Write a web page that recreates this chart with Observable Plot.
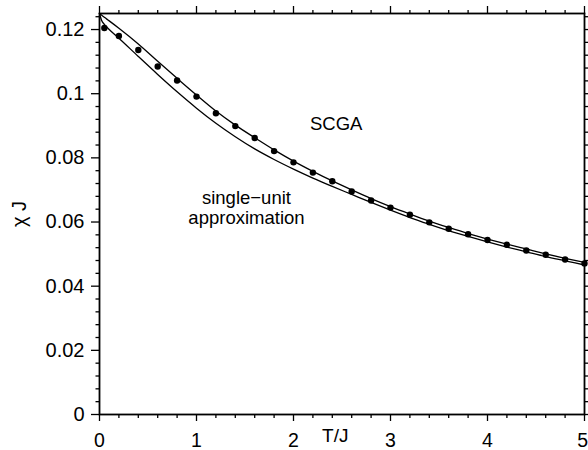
<!DOCTYPE html>
<html>
<head>
<meta charset="utf-8">
<script src="https://cdn.jsdelivr.net/npm/d3@7"></script>
<script src="https://cdn.jsdelivr.net/npm/@observablehq/plot@0.6"></script>
<style>
  html, body { margin: 0; padding: 0; background: #fff; }
</style>
</head>
<body>
<div id="chart"></div>
<script>
// Temperature grid for the two theory curves (T/J)
const lineT = [0, 0.02, 0.05, 0.1, 0.2, 0.4, 0.6, 0.8, 1.0, 1.2, 1.4, 1.6, 1.8, 2.0, 2.2, 2.4, 2.6, 2.8, 3.0, 3.2, 3.4, 3.6, 3.8, 4.0, 4.2, 4.4, 4.6, 4.8, 5.0];
// SCGA susceptibility χJ
const scgaChi = [0.1250, 0.1245, 0.1238, 0.1227, 0.1204, 0.1155, 0.1101, 0.1048, 0.0996, 0.0946, 0.0902, 0.0863, 0.0825, 0.0790, 0.0758, 0.0728, 0.0700, 0.0673, 0.0648, 0.0625, 0.0603, 0.0583, 0.0564, 0.0547, 0.0531, 0.0516, 0.0501, 0.0487, 0.0474];
// single-unit approximation χJ
const singleUnitChi = [0.1250, 0.1230, 0.1216, 0.1200, 0.1173, 0.1116, 0.1060, 0.1006, 0.0955, 0.0908, 0.0866, 0.0828, 0.0795, 0.0765, 0.0737, 0.0711, 0.0686, 0.0661, 0.0637, 0.0614, 0.0593, 0.0573, 0.0555, 0.0538, 0.0522, 0.0507, 0.0492, 0.0479, 0.0466];

// Monte Carlo points
const mcT = [0.05, 0.2, 0.4, 0.6, 0.8, 1.0, 1.2, 1.4, 1.6, 1.8, 2.0, 2.2, 2.4, 2.6, 2.8, 3.0, 3.2, 3.4, 3.6, 3.8, 4.0, 4.2, 4.4, 4.6, 4.8, 5.0];
const mcChi = [0.1205, 0.1180, 0.1136, 0.1085, 0.1041, 0.0991, 0.0939, 0.0899, 0.0862, 0.0821, 0.0786, 0.0754, 0.0727, 0.0695, 0.0667, 0.0645, 0.0623, 0.0599, 0.0579, 0.0562, 0.0544, 0.0529, 0.0511, 0.0498, 0.0483, 0.0471];

// Axis ticks
const xMajor = [0, 1, 2, 3, 4, 5];
const xMinor = d3.range(0, 5.001, 0.2).map(v => +v.toFixed(1)).filter(v => !xMajor.includes(v));
const yMajor = [0, 0.02, 0.04, 0.06, 0.08, 0.1, 0.12];
const yMinor = d3.range(0, 0.1241, 0.004).map(v => +v.toFixed(3)).filter(v => !yMajor.includes(v));

const curveLabels = [
  {T: 2.44, chi: 0.0908, text: "SCGA"},
  {T: 1.515, chi: 0.0646, text: "single\u2212unit\napproximation"}
];

const scga = lineT.map((t, i) => ({T: t, chi: scgaChi[i]}));
const single = lineT.map((t, i) => ({T: t, chi: singleUnitChi[i]}));
const mc = mcT.map((t, i) => ({T: t, chi: mcChi[i]}));

const font = "'Liberation Sans', Arial, Helvetica, sans-serif";
const fmt = d => String(+d.toFixed(3));
const lastX = xMajor[xMajor.length - 1];

const chart = Plot.plot({
  width: 588,
  height: 450,
  marginLeft: 99,
  marginRight: 4,
  marginTop: 13,
  marginBottom: 36,
  style: {fontFamily: font, fontSize: "19px", background: "#fff", color: "#000"},
  x: {domain: [0, 5], label: null},
  y: {domain: [0, 0.125], label: null},
  marks: [
    // bottom axis (the last label is kept inside the right edge)
    Plot.axisX(xMajor, {anchor: "bottom", tickSize: 7, fill: "none", strokeWidth: 1.3, label: null}),
    Plot.axisX(xMajor.filter(v => v !== lastX), {anchor: "bottom", tickSize: 0, tickPadding: 19, tickFormat: fmt, fontSize: 19.5, label: null}),
    Plot.axisX([lastX], {anchor: "bottom", tickSize: 0, tickPadding: 19, tickFormat: fmt, fontSize: 19.5, textAnchor: "end", dx: 3.5, label: null}),
    Plot.axisX(xMinor, {anchor: "bottom", tickSize: 4, fill: "none", strokeWidth: 1.3, label: null}),
    // top axis
    Plot.axisX(xMajor, {anchor: "top", tickSize: 8, fill: "none", strokeWidth: 1.3, label: null}),
    Plot.axisX(xMinor, {anchor: "top", tickSize: 4, fill: "none", strokeWidth: 1.3, label: null}),
    // left axis
    Plot.axisY(yMajor, {anchor: "left", tickSize: 8, tickPadding: 7, tickFormat: fmt, fontSize: 20, strokeWidth: 1.3, label: null}),
    Plot.axisY(yMinor, {anchor: "left", tickSize: 3.5, fill: "none", strokeWidth: 1.3, label: null}),
    // right axis
    Plot.axisY(yMajor, {anchor: "right", tickSize: 4, fill: "none", strokeWidth: 1.3, label: null}),
    Plot.axisY(yMinor, {anchor: "right", tickSize: 3, fill: "none", strokeWidth: 1.3, label: null}),
    Plot.frame({stroke: "#000", strokeWidth: 1.8}),
    Plot.line(scga, {x: "T", y: "chi", stroke: "#000", strokeWidth: 1.3, curve: "monotone-x"}),
    Plot.line(single, {x: "T", y: "chi", stroke: "#000", strokeWidth: 1.3, curve: "monotone-x"}),
    Plot.dot(mc, {x: "T", y: "chi", r: 3.2, fill: "#000", stroke: "none"}),
    Plot.text(curveLabels, {x: "T", y: "chi", text: "text", fontSize: 18.5, lineHeight: 1.08, fill: "#000"}),
    // axis titles
    Plot.text(["T/J"], {x: () => 2.43, frameAnchor: "bottom", dy: 27.5, fontSize: 19, fill: "#000"}),
    Plot.text(["\u03c7 J"], {frameAnchor: "left", textAnchor: "middle", dx: -80, rotate: -90, fontSize: 20, fill: "#000"})
  ]
});

document.getElementById("chart").appendChild(chart);
</script>
</body>
</html>
